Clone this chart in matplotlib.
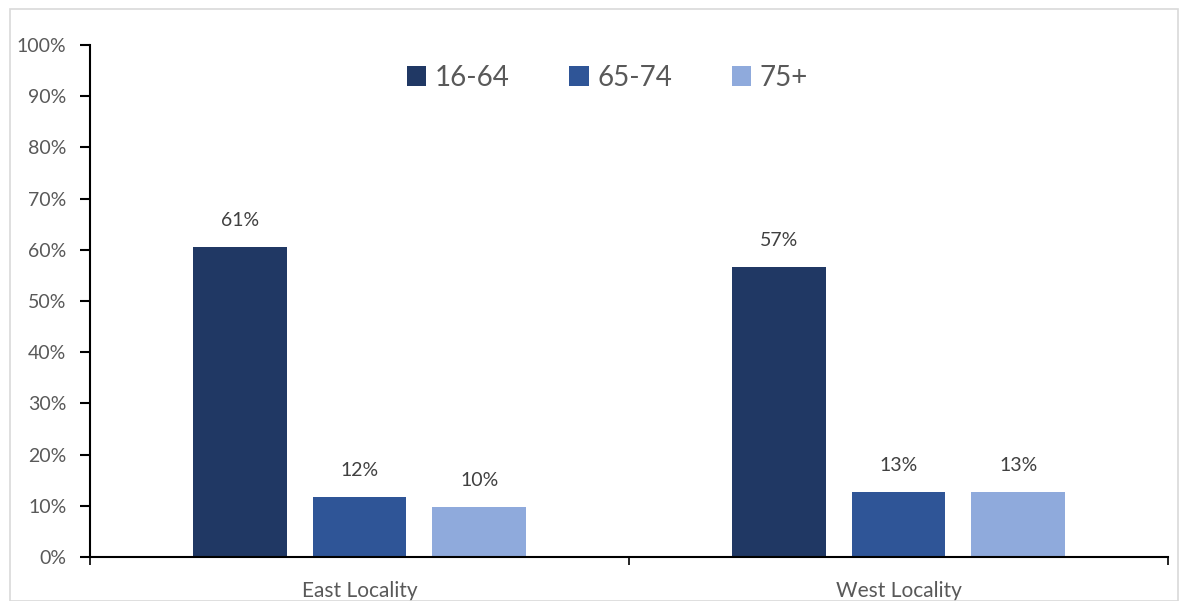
import matplotlib.pyplot as plt
from matplotlib.patches import Rectangle
from matplotlib.ticker import PercentFormatter
import numpy as np

categories = ['East Locality', 'West Locality']
groups = ['16-64', '65-74', '75+']
values = {
    '16-64': [60.6, 56.7],
    '65-74': [11.7, 12.7],
    '75+': [9.8, 12.7],
}
labels = {
    '16-64': ['61%', '57%'],
    '65-74': ['12%', '13%'],
    '75+': ['10%', '13%'],
}
colors = ['#203864', '#2F5597', '#8FAADC']

plt.rcParams['font.family'] = ['Lato', 'DejaVu Sans']

fig = plt.figure(figsize=(11.81, 6.01), dpi=100)
ax = fig.add_axes([90 / 1181, 44 / 601, (1168 - 90) / 1181, (557 - 45) / 601])

# light frame round the chart
fig.patches.append(Rectangle((10 / 1181, 0), 1168 / 1181, 592 / 601, transform=fig.transFigure,
                             fill=False, edgecolor='#d9d9d9', linewidth=1.2))

x = np.arange(len(categories))
w = 0.174
step = 0.222
for i, (g, c) in enumerate(zip(groups, colors)):
    pos = x + (i - 1) * step
    ax.bar(pos, values[g], width=w, color=c, label=g, zorder=2)
    for px, v, t in zip(pos, values[g], labels[g]):
        ax.text(px, v + 5.2, t, ha='center', va='center', fontsize=14, color='#404040')

ax.set_xlim(-0.5, 1.5)
ax.set_ylim(0, 100)
ax.set_yticks(range(0, 101, 10))
ax.yaxis.set_major_formatter(PercentFormatter(decimals=0))
ax.tick_params(axis='y', labelsize=14, labelcolor='#595959', color='black', length=7, width=1.5, pad=10)

ax.set_xticks([-0.5, 0.5, 1.5], minor=False)
ax.set_xticklabels(['', '', ''])
ax.set_xticks(x, minor=True)
ax.set_xticklabels(categories, minor=True)
ax.tick_params(axis='x', which='major', length=6, width=1.2, color='black')
ax.tick_params(axis='x', which='minor', length=0, labelsize=15, labelcolor='#595959', pad=17)

for s in ['top', 'right']:
    ax.spines[s].set_visible(False)
ax.spines['left'].set_linewidth(1.5)
ax.spines['bottom'].set_linewidth(1.5)

ax.legend(loc='upper center', bbox_to_anchor=(0.48, 1.01), ncol=3, frameon=False,
          fontsize=20, handlelength=0.7, handleheight=0.7, columnspacing=2.15,
          handletextpad=0.3, labelcolor='#595959')

fig.savefig('out.png', dpi=100)
